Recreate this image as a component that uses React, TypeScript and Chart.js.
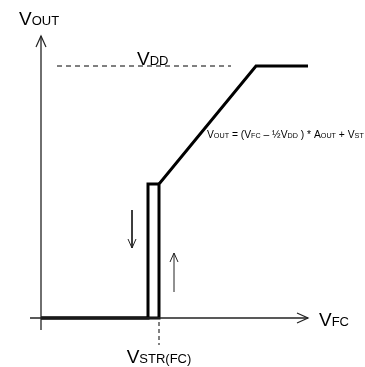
import React, { useEffect, useRef } from "react";
import { Chart, registerables } from "chart.js";

Chart.register(...registerables);

// Data units: 1 unit = 10 px, origin at axis crossing
const risingX = [0, 11.8, 11.8, 21.5, 26.7];
const risingY = [0, 0, 13.4, 25.2, 25.2];
const fallingX = [11.8, 10.7, 10.7, 0];
const fallingY = [13.4, 13.4, 0, 0];

const vddX = [1.6, 19.0];
const vddY = [25.2, 25.2];
const vstrX = [11.8, 11.8];
const vstrY = [-0.4, -2.7];

const xAxisX = [-1.1, 26.7];
const xAxisY = [0, 0];
const yAxisX = [0, 0];
const yAxisY = [-1.2, 28.2];

const xHeadX = [25.6, 26.7, 25.6];
const xHeadY = [0.5, 0, -0.5];
const yHeadX = [-0.5, 0, 0.5];
const yHeadY = [27.1, 28.2, 27.1];

const downX = [9.1, 9.1];
const downY = [10.8, 7.0];
const downHeadX = [8.7, 9.1, 9.5];
const downHeadY = [7.9, 7.0, 7.9];
const upX = [13.3, 13.3];
const upY = [2.6, 6.5];
const upHeadX = [12.9, 13.3, 13.7];
const upHeadY = [5.6, 6.5, 5.6];

type Part = [string, boolean];
const labelVout: Part[] = [["V", false], ["OUT", true]];
const labelVdd: Part[] = [["V", false], ["DD", true]];
const labelVfc: Part[] = [["V", false], ["FC", true]];
const labelVstr: Part[] = [["V", false], ["STR(FC)", true]];
const labelEq: Part[] = [
  ["V", false], ["OUT", true], [" = (V", false], ["FC", true],
  [" \u2013 \u00BDV", false], ["DD", true], [" ) * A", false], ["OUT", true],
  [" + V", false], ["ST", true],
];

const labels = [
  { parts: labelVout, x: -2.2, y: 29.3, size: 19, sub: 13, align: "left" },
  { parts: labelVdd, x: 9.6, y: 25.3, size: 19, sub: 13, align: "left" },
  { parts: labelVfc, x: 27.8, y: -0.8, size: 19, sub: 13, align: "left" },
  { parts: labelVstr, x: 11.8, y: -4.5, size: 19, sub: 13, align: "center" },
  { parts: labelEq, x: 16.6, y: 18.0, size: 10.3, sub: 7.2, align: "left" },
];

const FONT = "'Liberation Sans', Arial, sans-serif";

function pts(xs: number[], ys: number[]) {
  return xs.map((x, i) => ({ x, y: ys[i] }));
}

function line(xs: number[], ys: number[], width: number, color = "#000", dash: number[] = []) {
  return {
    data: pts(xs, ys),
    showLine: true,
    borderColor: color,
    borderWidth: width,
    borderDash: dash,
    pointRadius: 0,
    fill: false,
    tension: 0,
    borderJoinStyle: "miter" as const,
    borderCapStyle: "butt" as const,
  };
}

const textPlugin = {
  id: "texts",
  afterDatasetsDraw(chart: any) {
    const ctx = chart.ctx;
    const sx = chart.scales.x;
    const sy = chart.scales.y;
    ctx.save();
    ctx.fillStyle = "#000";
    ctx.textBaseline = "alphabetic";
    for (const l of labels) {
      let total = 0;
      for (const [t, s] of l.parts) {
        ctx.font = `${s ? l.sub : l.size}px ${FONT}`;
        total += ctx.measureText(t).width;
      }
      let px = sx.getPixelForValue(l.x);
      const py = sy.getPixelForValue(l.y);
      if (l.align === "center") px -= total / 2;
      for (const [t, s] of l.parts) {
        ctx.font = `${s ? l.sub : l.size}px ${FONT}`;
        ctx.fillText(t, px, py);
        px += ctx.measureText(t).width;
      }
    }
    ctx.restore();
  },
};

export default function App() {
  const ref = useRef<HTMLCanvasElement>(null);
  useEffect(() => {
    if (!ref.current) return;
    const chart = new Chart(ref.current, {
      type: "scatter",
      data: {
        datasets: [
          line(xAxisX, xAxisY, 1.3, "#222"),
          line(yAxisX, yAxisY, 1.3, "#222"),
          line(xHeadX, xHeadY, 1.2, "#222"),
          line(yHeadX, yHeadY, 1.2, "#222"),
          line(vddX, vddY, 1, "#000", [5, 4]),
          line(vstrX, vstrY, 1, "#000", [4, 3]),
          line(downX, downY, 1, "#222"),
          line(downHeadX, downHeadY, 1, "#222"),
          line(upX, upY, 1, "#222"),
          line(upHeadX, upHeadY, 1, "#222"),
          line(risingX, risingY, 3),
          line(fallingX, fallingY, 3),
        ] as any,
      },
      options: {
        animation: false,
        responsive: false,
        devicePixelRatio: 1,
        layout: { padding: 0 },
        plugins: { legend: { display: false }, tooltip: { enabled: false } },
        events: [],
        scales: {
          x: { type: "linear", min: -4.1, max: 32.4, display: false },
          y: { type: "linear", min: -4.9, max: 31.8, display: false },
        },
      },
      plugins: [textPlugin],
    });
    return () => chart.destroy();
  }, []);
  return (
    <div style={{ position: "fixed", left: 0, top: 0, width: 365, height: 367, background: "#fff" }}>
      <canvas ref={ref} width={365} height={367} style={{ display: "block" }} />
    </div>
  );
}
